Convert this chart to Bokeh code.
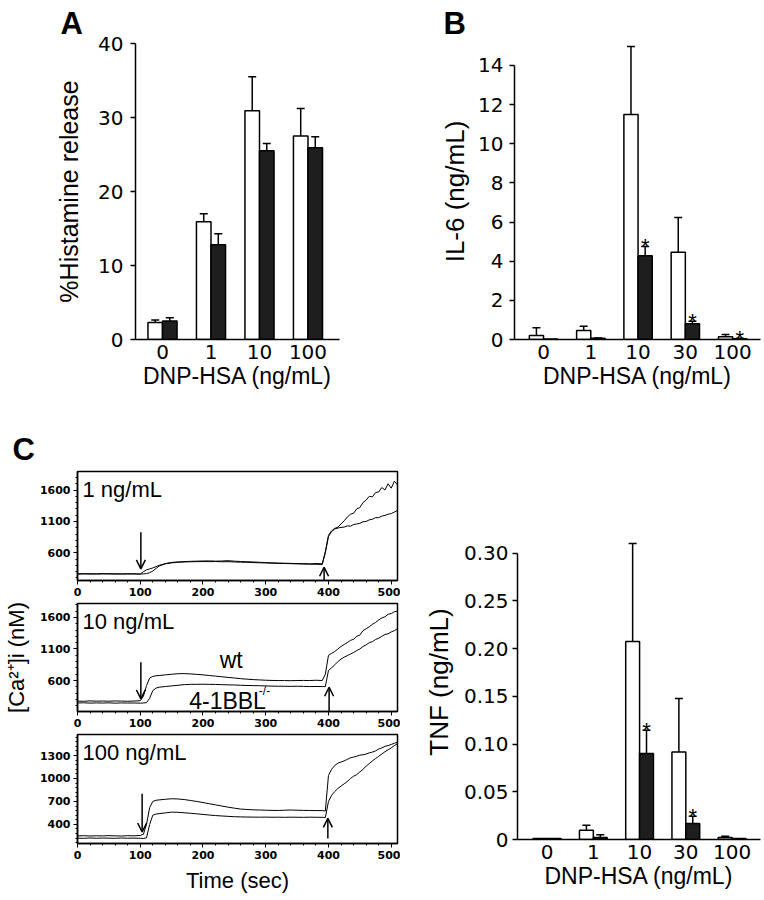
import math
from bokeh.plotting import figure
from bokeh.layouts import row, column
from bokeh.models import (Range1d, FixedTicker, SingleIntervalTicker, Whisker, TeeHead,
                          Arrow, OpenHead, ColumnDataSource, Label, Title)
from bokeh.embed import file_html
from bokeh.resources import INLINE
from bokeh.core.properties import value

FONT = "Liberation Sans"
TICK_FONT = "DejaVu Sans"

# ---------------- Panel A: histamine release ----------------
doses_A = ["0", "1", "10", "100"]
hist_wt = [2.3, 15.9, 30.9, 27.5]
hist_wt_err = [0.35, 1.1, 4.6, 3.7]
hist_ko = [2.5, 12.8, 25.5, 25.9]
hist_ko_err = [0.45, 1.5, 1.0, 1.5]
hist_ticks = [0, 10, 20, 30, 40]

# ---------------- Panel B: IL-6 ----------------
doses_B = ["0", "1", "10", "30", "100"]
il6_wt = [0.2, 0.46, 11.49, 4.46, 0.14]
il6_wt_err = [0.4, 0.22, 3.48, 1.77, 0.11]
il6_ko = [0.03, 0.06, 4.28, 0.80, 0.04]
il6_ko_err = [0.0, 0.02, 0.47, 0.13, 0.02]
il6_sig = [False, False, True, True, True]
il6_ticks = [0, 2, 4, 6, 8, 10, 12, 14]

# ---------------- TNF ----------------
tnf_wt = [0.001, 0.0097, 0.2075, 0.0917, 0.002]
tnf_wt_err = [0.0, 0.0053, 0.1025, 0.0559, 0.0015]
tnf_ko = [0.001, 0.002, 0.090, 0.0167, 0.001]
tnf_ko_err = [0.0, 0.003, 0.0244, 0.0077, 0.0]
tnf_sig = [False, False, True, True, False]
tnf_ticks = [0, 0.05, 0.10, 0.15, 0.20, 0.25, 0.30]
tnf_tick_labels = ["0", "0.05", "0.10", "0.15", "0.20", "0.25", "0.30"]

# ---------------- Panel C: [Ca2+]i traces ----------------
time_s = [0, 10, 20, 30, 40, 50, 60, 70, 80, 90,
          100, 105, 110, 115, 120, 125, 130,
          140, 150, 160, 170, 180, 190, 200, 210, 220, 230, 240, 250, 260, 270, 280, 290,
          300, 310, 320, 330, 340, 350, 360, 370, 380, 390,
          395, 400, 405, 410, 415, 420,
          425, 430, 435, 440, 445, 450, 455, 460, 465, 470, 475, 480, 485, 490, 495, 500,
          505, 510]

ca1_wt = [265, 268, 262, 266, 270, 264, 267, 263, 268, 265,
          262, 300, 330, 345, 360, 380, 400,
          430, 448, 455, 460, 465, 468, 470, 472, 468, 470, 475, 468, 462, 458, 455, 450,
          445, 440, 438, 435, 432, 430, 428, 425, 430, 425,
          620, 880, 950, 990, 1010, 1060,
          1110, 1170, 1215, 1230, 1300, 1320, 1400, 1440, 1500, 1490, 1560, 1570, 1640, 1600,
          1700, 1630, 1740, 1680]
ca1_ko = [262, 265, 268, 262, 264, 268, 262, 265, 263, 266,
          262, 265, 270, 285, 310, 350, 390,
          425, 440, 450, 455, 458, 460, 462, 460, 462, 458, 460, 455, 452, 450, 445, 442,
          440, 436, 432, 430, 428, 425, 422, 420, 418, 415,
          600, 860, 940, 980, 995, 1005,
          1010, 1030, 1025, 1050, 1060, 1070, 1095, 1100, 1125, 1135, 1160, 1160, 1185, 1195,
          1215, 1225, 1250, 1275]

ca2_wt = [275, 272, 278, 274, 276, 273, 277, 275, 272, 276,
          280, 350, 520, 640, 665, 675, 680,
          690, 700, 708, 710, 705, 698, 690, 680, 670, 660, 650, 640, 630, 622, 615, 610,
          605, 602, 600, 600, 598, 600, 602, 600, 605, 600,
          700, 1000, 1030, 1060, 1100, 1140,
          1170, 1200, 1235, 1255, 1300, 1320, 1390, 1420, 1450, 1490, 1520, 1560, 1590, 1610,
          1650, 1660, 1690, 1700]
ca2_ko = [245, 248, 243, 246, 244, 247, 242, 246, 244, 245,
          242, 245, 250, 320, 440, 480, 495,
          505, 515, 525, 535, 540, 540, 542, 540, 538, 535, 532, 530, 525, 522, 520, 518,
          515, 512, 510, 510, 508, 510, 508, 505, 506, 505,
          504, 760, 800, 850, 900, 940,
          970, 995, 1020, 1045, 1075, 1100, 1140, 1165, 1200, 1215, 1250, 1270, 1300, 1330,
          1340, 1370, 1390, 1420]

ca3_wt = [250, 252, 248, 251, 249, 253, 250, 248, 252, 250,
          255, 270, 400, 620, 700, 715, 720,
          728, 735, 732, 725, 712, 700, 685, 670, 655, 640, 625, 612, 600, 595, 590, 588,
          585, 583, 582, 585, 588, 585, 583, 582, 580, 580,
          575, 1040, 1120, 1170, 1200, 1215,
          1230, 1250, 1270, 1280, 1290, 1305, 1310, 1320, 1335, 1345, 1360, 1385, 1400, 1420,
          1430, 1445, 1460, 1475]
ca3_ko = [220, 218, 222, 219, 221, 220, 218, 222, 219, 220,
          218, 215, 225, 400, 520, 535, 540,
          550, 560, 558, 552, 545, 538, 530, 522, 515, 510, 505, 500, 498, 496, 495, 494,
          495, 493, 494, 492, 494, 493, 492, 494, 493, 492,
          490, 700, 780, 830, 870, 900,
          930, 960, 1000, 1030, 1050, 1085, 1120, 1160, 1195, 1230, 1260, 1290, 1320, 1350,
          1375, 1400, 1430, 1455]

conc_labels = ["1 ng/mL", "10 ng/mL", "100 ng/mL"]
# stimulus arrows: antigen added (down arrow) and second stimulus (up arrow)
down_t = [101, 101, 103]
down_y0 = [927, 890, 800]
down_y1 = [346, 310, 300]
up_t = [393, 401, 399]
up_y0 = [160, 110, 217]
up_y1 = [371, 494, 478]


def style_text_axis(ax, label, label_size, tick_size, label_standoff, tick_standoff):
    ax.axis_label = label
    ax.axis_label_text_font = FONT
    ax.axis_label_text_font_size = label_size
    ax.axis_label_text_font_style = "normal"
    ax.axis_label_text_color = "black"
    ax.axis_label_standoff = label_standoff
    ax.major_label_text_font = TICK_FONT
    ax.major_label_text_font_size = tick_size
    ax.major_label_text_color = "black"
    ax.major_label_standoff = tick_standoff
    ax.axis_line_color = "black"
    ax.axis_line_width = 1.5
    ax.major_tick_line_color = "black"
    ax.major_tick_line_width = 1.5
    ax.minor_tick_line_color = None


def panel_letter(p, text, offset, standoff):
    p.add_layout(Title(text=text, align="left", offset=offset, standoff=standoff,
                       vertical_align="bottom", text_font=FONT, text_font_size="31px",
                       text_font_style="bold", text_color="black"), "above")


def bar_panel(cats, wt, wt_err, ko, ko_err, sig, yticks, ytick_labels, ybound, ylabel,
              width, height, borders, xr, yr, ylab_size, ylab_standoff, ytick_standoff):
    left, right, top, bottom = borders
    p = figure(width=width, height=height, x_range=Range1d(*xr), y_range=Range1d(*yr),
               toolbar_location=None, output_backend="svg", title=None,
               min_border_left=left, min_border_right=right,
               min_border_top=top, min_border_bottom=bottom)
    p.outline_line_color = None
    p.grid.visible = False
    p.background_fill_color = "white"
    p.border_fill_color = "white"
    idx = list(range(len(cats)))
    bw = 0.30
    xw = [i - bw / 2 for i in idx]
    xk = [i + bw / 2 for i in idx]
    p.vbar(x=xw, top=wt, width=bw, bottom=0, fill_color="white",
           line_color="black", line_width=1.5)
    p.vbar(x=xk, top=ko, width=bw, bottom=0, fill_color="#1e1e1e",
           line_color="black", line_width=1.5)
    for xs, tops, errs in ((xw, wt, wt_err), (xk, ko, ko_err)):
        sel = [j for j in idx if errs[j] > 0]
        src = ColumnDataSource(dict(base=[xs[j] for j in sel],
                                    lower=[tops[j] for j in sel],
                                    upper=[tops[j] + errs[j] for j in sel]))
        p.add_layout(Whisker(source=src, base="base", lower="lower", upper="upper",
                             dimension="height", line_color="black", line_width=1.5,
                             lower_head=None,
                             upper_head=TeeHead(size=8, line_color="black", line_width=1.5)))
    if sig:
        sx = [xk[j] for j in idx if sig[j]]
        sy = [ko[j] + ko_err[j] for j in idx if sig[j]]
        p.text(x=sx, y=sy, text=["*"] * len(sx), text_font=value(FONT),
               text_font_size="22px", text_align="center", text_baseline="middle",
               y_offset=0, text_color="black")
    # x axis (dose categories)
    style_text_axis(p.xaxis[0], "DNP-HSA (ng/mL)", "23px", "20px", 1, 5)
    p.xaxis.ticker = FixedTicker(ticks=idx)
    p.xaxis.major_label_overrides = {i: c for i, c in enumerate(cats)}
    p.xaxis.major_tick_out = 0
    p.xaxis.major_tick_in = 0
    # y axis
    style_text_axis(p.yaxis[0], ylabel, ylab_size, "20px", ylab_standoff, ytick_standoff)
    p.yaxis.ticker = FixedTicker(ticks=yticks)
    if ytick_labels:
        p.yaxis.major_label_overrides = {t: s for t, s in zip(yticks, ytick_labels)}
    p.yaxis.major_tick_out = 5
    p.yaxis.major_tick_in = 0
    p.yaxis.bounds = ybound
    return p


pA = bar_panel(doses_A, hist_wt, hist_wt_err, hist_ko, hist_ko_err, None,
               hist_ticks, None, (0, 40), "%Histamine release",
               380, 400, (135, 41, 43, 61), (-0.557, 3.65), (0, 40), "25px", 12, 7)
panel_letter(pA, "A", -75, 6)

pB = bar_panel(doses_B, il6_wt, il6_wt_err, il6_ko, il6_ko_err, il6_sig,
               il6_ticks, None, (0, 14), "IL-6 (ng/mL)",
               384, 400, (134, 4, 43, 60), (-0.614, 4.59), (0, 15.12), "26px", 5, 6)
panel_letter(pB, "B", -71, 6)

pT = bar_panel(doses_B, tnf_wt, tnf_wt_err, tnf_ko, tnf_ko_err, tnf_sig,
               tnf_ticks, tnf_tick_labels, (0, 0.30), "TNF (ng/mL)",
               364, 500, (117, 4, 124, 61), (-0.64, 4.615), (0, 0.33), "26px", 7, 4)


def trace_panel(height, top, bottom, yr, yticks, yminor, wt, ko, k):
    p = figure(width=400, height=height, x_range=Range1d(0, 510), y_range=Range1d(*yr),
               toolbar_location=None, output_backend="svg", title=None,
               min_border_left=72, min_border_right=3,
               min_border_top=top, min_border_bottom=bottom)
    p.grid.visible = False
    p.background_fill_color = "white"
    p.border_fill_color = "white"
    p.outline_line_color = "black"
    p.outline_line_width = 1.5
    p.line(time_s, wt, line_color="black", line_width=1)
    p.line(time_s, ko, line_color="black", line_width=1)
    for ax in (p.xaxis[0], p.yaxis[0]):
        ax.major_label_text_font = TICK_FONT
        ax.major_label_text_font_size = "11px"
        ax.major_label_text_font_style = "bold"
        ax.major_label_text_color = "black"
        ax.major_label_standoff = 3
        ax.axis_line_color = "black"
        ax.axis_line_width = 1.5
        ax.major_tick_line_color = "black"
        ax.major_tick_line_width = 1
        ax.minor_tick_line_color = "black"
        ax.major_tick_out = 4
        ax.major_tick_in = 0
        ax.minor_tick_out = 2
        ax.minor_tick_in = 0
    p.xaxis.ticker = SingleIntervalTicker(interval=100, num_minor_ticks=5)
    p.yaxis.ticker = FixedTicker(ticks=yticks, minor_ticks=yminor)
    p.add_layout(Arrow(end=OpenHead(size=9, line_color="black", line_width=1.5),
                       x_start=down_t[k], y_start=down_y0[k], x_end=down_t[k], y_end=down_y1[k],
                       line_color="black", line_width=1.5))
    p.add_layout(Arrow(end=OpenHead(size=9, line_color="black", line_width=1.5),
                       x_start=up_t[k], y_start=up_y0[k], x_end=up_t[k], y_end=up_y1[k],
                       line_color="black", line_width=1.5))
    return p


c1 = trace_panel(200, 71, 20, (160, 1895), [600, 1100, 1600],
                 list(range(200, 1900, 100)), ca1_wt, ca1_ko, 0)
c2 = trace_panel(130, 3, 19, (110, 1820), [600, 1100, 1600],
                 list(range(200, 1900, 100)), ca2_wt, ca2_ko, 1)
c3 = trace_panel(170, 4, 57, (150, 1575), [400, 700, 1000, 1300],
                 list(range(160, 1580, 60)), ca3_wt, ca3_ko, 2)

for p, txt, yv in ((c1, conc_labels[0], 1610), (c2, conc_labels[1], 1530), (c3, conc_labels[2], 1345)):
    p.add_layout(Label(x=8, y=yv, text=txt, text_font=FONT, text_font_size="22px",
                       text_align="left", text_baseline="middle", text_color="black"))

panel_letter(c1, "C", -65, 10)

c2.yaxis.axis_label = "[Ca\u00b2\u207a]i (nM)"
c2.yaxis.axis_label_text_font = FONT
c2.yaxis.axis_label_text_font_size = "22px"
c2.yaxis.axis_label_text_font_style = "normal"
c2.yaxis.axis_label_text_color = "black"
c2.yaxis.axis_label_standoff = 8

c2.add_layout(Label(x=245, y=932, text="wt", text_font=FONT, text_font_size="23px",
                    text_align="center", text_baseline="middle", text_color="black"))
c2.add_layout(Label(x=178, y=272, text="4-1BBL", text_font=FONT, text_font_size="23px",
                    text_align="left", text_baseline="middle", text_color="black"))
c2.add_layout(Label(x=289, y=430, text="-/-", text_font=FONT, text_font_size="12px",
                    text_align="left", text_baseline="middle", text_color="black"))

c3.xaxis.axis_label = "Time (sec)"
c3.xaxis.axis_label_text_font = FONT
c3.xaxis.axis_label_text_font_size = "22px"
c3.xaxis.axis_label_text_font_style = "normal"
c3.xaxis.axis_label_text_color = "black"
c3.xaxis.axis_label_standoff = 6

layout = column(row(pA, pB, spacing=0),
                row(column(c1, c2, c3, spacing=0), pT, spacing=0),
                spacing=0)

open("out.html", "w").write(file_html(layout, INLINE))
